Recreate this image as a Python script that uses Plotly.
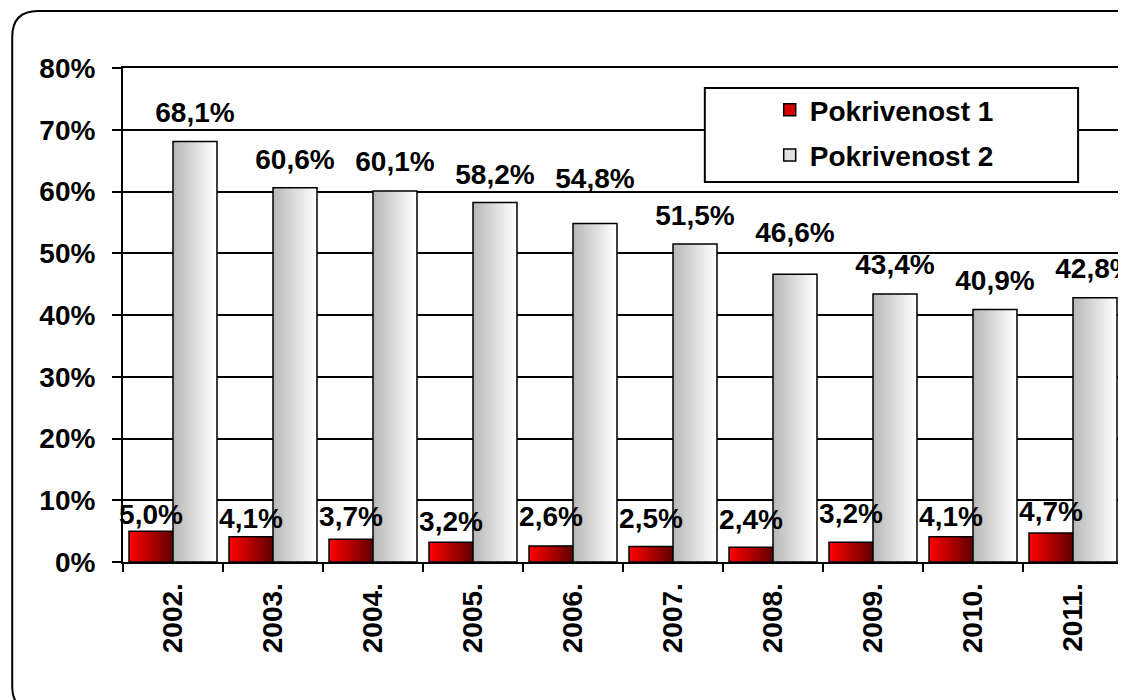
import plotly.graph_objects as go

# ---------------- data ----------------
years = ["2002.", "2003.", "2004.", "2005.", "2006.", "2007.", "2008.", "2009.", "2010.", "2011."]
pokrivenost_1 = [5.0, 4.1, 3.7, 3.2, 2.6, 2.5, 2.4, 3.2, 4.1, 4.7]
pokrivenost_2 = [68.1, 60.6, 60.1, 58.2, 54.8, 51.5, 46.6, 43.4, 40.9, 42.8]
series_names = ["Pokrivenost 1", "Pokrivenost 2"]
y_ticks = [0, 10, 20, 30, 40, 50, 60, 70, 80]
y_tick_labels = ["0%", "10%", "20%", "30%", "40%", "50%", "60%", "70%", "80%"]

# ---------------- style ----------------
FONT = "Liberation Sans, Arial, sans-serif"
FS = 28
PAGE_OFF = 8                      # default body margin of the html page
W, H = 1126 - PAGE_OFF, 700 - PAGE_OFF
L, R, T, B = 123 - PAGE_OFF, 1, 68 - PAGE_OFF, 138
PW, PH = W - L - R, H - T - B
BAR_W = 0.44
N_STRIPS = 14

# label distance above each bar (px), as placed in the original chart
label_gap_1 = [3, 7, 12, 10, 18, 17.5, 17, 18, 9, 10]
label_gap_2 = [17.5, 17, 18, 17, 34, 17, 31, 19, 18, 18]


def gap_to_size(g):
    # invisible marker whose radius pushes the label up by the wanted gap
    return 0 if g <= 5 else max(1.6 * (g - 6.5), 1)


def fx(px):
    return (px - PAGE_OFF - L) / PW


def fy(py):
    return (H - B - (py - PAGE_OFF)) / PH


def lerp(c0, c1, t):
    return "rgb(%d,%d,%d)" % tuple(round(a + (b - a) * t) for a, b in zip(c0, c1))


def fmt(v):
    return ("%.1f" % v).replace(".", ",") + "%"


# name, values, bar offset, gradient start, gradient end, legend colour, label gaps
series = [
    (series_names[0], pokrivenost_1, -BAR_W, (255, 0, 0), (100, 0, 0), "rgb(215,0,0)", label_gap_1),
    (series_names[1], pokrivenost_2, 0.0, (185, 185, 185), (255, 255, 255), "rgb(225,225,225)", label_gap_2),
]

fig = go.Figure()
for idx, (name, vals, base, c0, c1, legcol, gaps) in enumerate(series):
    sw = BAR_W / N_STRIPS
    for k in range(N_STRIPS):
        fig.add_bar(
            x=years, y=vals, offset=base + k * sw, width=BAR_W - k * sw,
            marker=dict(color=lerp(c0, c1, k / (N_STRIPS - 1)), line=dict(width=0)),
            showlegend=False, hoverinfo="skip",
        )
    fig.add_bar(
        x=years, y=vals, offset=base, width=BAR_W,
        marker=dict(color="rgba(0,0,0,0)", line=dict(color="black", width=1.5)),
        showlegend=False, hoverinfo="skip",
    )
    fig.add_bar(
        x=[years[0]], y=[None], name=name, legendgroup=name,
        marker=dict(color=legcol, line=dict(color="black", width=1.5)),
    )
    fig.add_scatter(
        x=years, y=vals, text=[fmt(v) for v in vals],
        mode="markers+text", textposition="top center",
        marker=dict(size=[gap_to_size(g) for g in gaps], sizemode="diameter",
                    color="rgba(0,0,0,0)", line=dict(width=0)),
        textfont=dict(family=FONT, size=FS, color="black", weight="bold"),
        offsetgroup=str(idx), alignmentgroup="labels",
        cliponaxis=False, showlegend=False, hoverinfo="skip",
    )

r = 26
x0, y0, x1, y1 = 12, 11, 1160, 712
border_path = (
    f"M {fx(x0 + r)},{fy(y0)} L {fx(x1)},{fy(y0)} L {fx(x1)},{fy(y1)} "
    f"L {fx(x0 + r)},{fy(y1)} Q {fx(x0)},{fy(y1)} {fx(x0)},{fy(y1 - r)} "
    f"L {fx(x0)},{fy(y0 + r)} Q {fx(x0)},{fy(y0)} {fx(x0 + r)},{fy(y0)} Z"
)

shapes = [
    dict(type="path", xref="paper", yref="paper", path=border_path,
         line=dict(color="black", width=2), fillcolor="rgba(0,0,0,0)", layer="below"),
    dict(type="rect", xref="paper", yref="paper",
         x0=fx(706), x1=fx(1080), y0=fy(182), y1=fy(88),
         line=dict(color="black", width=2), fillcolor="white", layer="above"),
]

fig.update_layout(
    width=W, height=H,
    margin=dict(l=L, r=R, t=T, b=B, pad=0),
    paper_bgcolor="white", plot_bgcolor="white",
    barmode="overlay",
    scattermode="group", scattergap=1 - 2 * BAR_W,
    font=dict(family=FONT, size=FS, color="black", weight="bold"),
    shapes=shapes,
    showlegend=True,
    legend=dict(
        x=fx(771), y=fy(85), xanchor="left", yanchor="top",
        bgcolor="rgba(0,0,0,0)", borderwidth=0, tracegroupgap=6,
        font=dict(family=FONT, size=FS, color="black", weight="bold"),
    ),
    xaxis=dict(
        type="category", showgrid=False, showline=True, linecolor="black", linewidth=2,
        mirror=True, ticks="outside", tickson="boundaries", ticklen=8, tickwidth=2,
        tickcolor="black", tickangle=-90, ticklabelstandoff=8,
        tickfont=dict(family=FONT, size=FS, color="black", weight="bold"),
        range=[-0.5, len(years) - 0.5], zeroline=False,
    ),
    yaxis=dict(
        range=[0, 80], tickmode="array", tickvals=y_ticks, ticktext=y_tick_labels,
        showgrid=True, gridcolor="black", gridwidth=2, showline=True, linecolor="black",
        linewidth=2, mirror=True, ticks="outside", ticklen=9, tickwidth=2, tickcolor="black",
        zeroline=False, ticklabelstandoff=11,
        tickfont=dict(family=FONT, size=FS, color="black", weight="bold"),
    ),
)

fig.write_html("out.html")
